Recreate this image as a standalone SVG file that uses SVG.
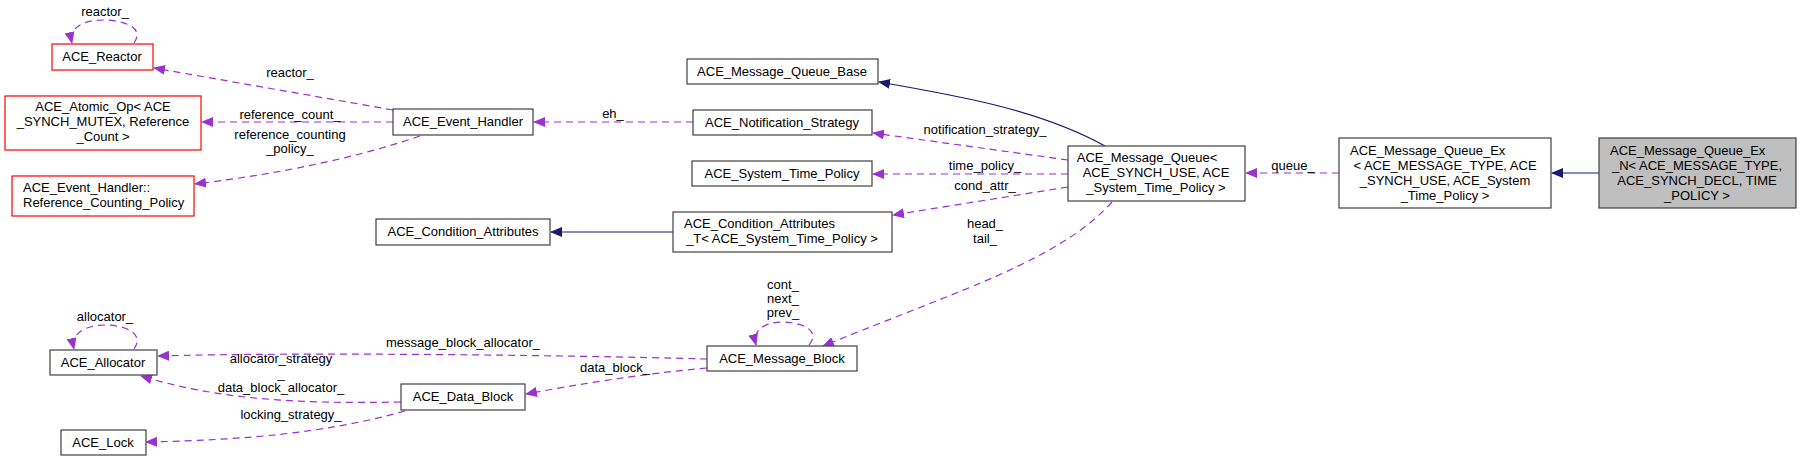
<svg xmlns="http://www.w3.org/2000/svg" width="1801" height="461" viewBox="0 0 1801 461">
<style>
text{font-family:"Liberation Sans",Arial,sans-serif;font-size:13px;fill:#000;text-anchor:middle}
.n{fill:#fff;stroke:#404040;stroke-width:1.2}
.r{fill:#fff;stroke:#ff0000;stroke-width:1.2}
.g{fill:#bfbfbf;stroke:#404040;stroke-width:1.2}
.u{fill:none;stroke:#9a32cd;stroke-width:1.2;stroke-dasharray:7,5;marker-end:url(#pa)}
.i{fill:none;stroke:#191970;stroke-width:1.2;marker-end:url(#ia)}
</style>
<defs>
<marker id="pa" markerWidth="12" markerHeight="10" refX="11" refY="5" orient="auto" markerUnits="userSpaceOnUse"><path d="M0,0 L12,5 L0,10 z" fill="#9a32cd"/></marker>
<marker id="ia" markerWidth="12" markerHeight="10" refX="11" refY="5" orient="auto" markerUnits="userSpaceOnUse"><path d="M0,0 L12,5 L0,10 z" fill="#191970"/></marker>
</defs>
<rect width="1801" height="461" fill="#fff"/>
<g id="connectors">
<path class="u" d="M134,43 C146,26 120,20 103,20 C86,20 68,26 72,43"/>
<text x="105" y="16">reactor_</text>
<path class="u" d="M393,110 L154,68"/>
<text x="290" y="77">reactor_</text>
<path class="u" d="M393,122 L202,122"/>
<text x="290" y="119">reference_count_</text>
<path class="u" d="M420,136 C350,160 270,175 195,184"/>
<text x="290" y="139">reference_counting</text>
<text x="290" y="153">_policy_</text>
<path class="u" d="M693,122 L534,122"/>
<text x="613" y="118">eh_</text>
<path class="i" d="M1105,146 C1040,110 960,96 879,82"/>
<path class="u" d="M1068,160 L873,133"/>
<text x="985" y="134">notification_strategy_</text>
<path class="u" d="M1068,174 L873,174"/>
<text x="985" y="170">time_policy_</text>
<path class="u" d="M1068,187 L893,215"/>
<text x="985" y="190">cond_attr_</text>
<path class="u" d="M1112,202 C1060,260 960,290 823,346"/>
<text x="985" y="228">head_</text>
<text x="985" y="243">tail_</text>
<path class="i" d="M673,232 L551,232"/>
<path class="u" d="M1339,173 L1246,173"/>
<text x="1293" y="170">queue_</text>
<path class="i" d="M1599,173 L1552,173"/>
<path class="u" d="M809,345 C822,330 800,322 783,322 C765,322 752,330 756,345"/>
<text x="783" y="289">cont_</text>
<text x="783" y="303">next_</text>
<text x="783" y="317">prev_</text>
<path class="u" d="M707,359 C560,355 300,352 158,356"/>
<text x="463" y="347">message_block_allocator_</text>
<path class="u" d="M707,368 C640,374 580,384 526,394"/>
<text x="615" y="372">data_block_</text>
<path class="u" d="M401,402 C300,404 220,400 141,376"/>
<text x="281" y="363">allocator_strategy</text>
<text x="281" y="378">_</text>
<text x="281" y="392">data_block_allocator_</text>
<path class="u" d="M405,411 C330,432 250,440 146,442"/>
<text x="291" y="419">locking_strategy_</text>
<path class="u" d="M134,349 C146,332 122,325 105,325 C88,325 70,332 74,349"/>
<text x="105" y="321">allocator_</text>
</g>
<g id="ACE_Reactor"><rect class="r" x="52" y="44" width="101" height="26"/><text x="102" y="61">ACE_Reactor</text></g>
<g id="ACE_Atomic_Op"><rect class="r" x="5" y="96" width="196" height="54"/><text x="103" y="111">ACE_Atomic_Op&lt; ACE</text><text x="103" y="126">_SYNCH_MUTEX, Reference</text><text x="103" y="141">_Count &gt;</text></g>
<g id="ACE_Event_Handler_Reference_Counting_Policy"><rect class="r" x="12" y="176" width="182" height="40"/><text x="23" y="192" style="text-anchor:start">ACE_Event_Handler::</text><text x="23" y="207" style="text-anchor:start">Reference_Counting_Policy</text></g>
<g id="ACE_Event_Handler"><rect class="n" x="393" y="109" width="140" height="26"/><text x="463" y="126">ACE_Event_Handler</text></g>
<g id="ACE_Condition_Attributes"><rect class="n" x="376" y="219" width="174" height="26"/><text x="463" y="236">ACE_Condition_Attributes</text></g>
<g id="ACE_Message_Queue_Base"><rect class="n" x="687" y="59" width="191" height="25"/><text x="782" y="76">ACE_Message_Queue_Base</text></g>
<g id="ACE_Notification_Strategy"><rect class="n" x="693" y="110" width="179" height="25"/><text x="782" y="127">ACE_Notification_Strategy</text></g>
<g id="ACE_System_Time_Policy"><rect class="n" x="692" y="161" width="180" height="25"/><text x="782" y="178">ACE_System_Time_Policy</text></g>
<g id="ACE_Condition_Attributes_T"><rect class="n" x="673" y="212" width="219" height="40"/><text x="684" y="228" style="text-anchor:start">ACE_Condition_Attributes</text><text x="782" y="243">_T&lt; ACE_System_Time_Policy &gt;</text></g>
<g id="ACE_Message_Queue"><rect class="n" x="1068" y="146" width="177" height="55"/><text x="1147" y="162">ACE_Message_Queue&lt;</text><text x="1156" y="177">ACE_SYNCH_USE, ACE</text><text x="1156" y="192">_System_Time_Policy &gt;</text></g>
<g id="ACE_Message_Queue_Ex"><rect class="n" x="1339" y="138" width="212" height="70"/><text x="1350" y="155" style="text-anchor:start">ACE_Message_Queue_Ex</text><text x="1445" y="170">&lt; ACE_MESSAGE_TYPE, ACE</text><text x="1445" y="185">_SYNCH_USE, ACE_System</text><text x="1445" y="200">_Time_Policy &gt;</text></g>
<g id="ACE_Message_Queue_Ex_N"><rect class="g" x="1599" y="138" width="197" height="70"/><text x="1610" y="155" style="text-anchor:start">ACE_Message_Queue_Ex</text><text x="1697" y="170">_N&lt; ACE_MESSAGE_TYPE,</text><text x="1697" y="185">ACE_SYNCH_DECL, TIME</text><text x="1697" y="200">_POLICY &gt;</text></g>
<g id="ACE_Message_Block"><rect class="n" x="707" y="346" width="150" height="25"/><text x="782" y="363">ACE_Message_Block</text></g>
<g id="ACE_Allocator"><rect class="n" x="50" y="350" width="107" height="25"/><text x="103" y="367">ACE_Allocator</text></g>
<g id="ACE_Data_Block"><rect class="n" x="401" y="384" width="124" height="26"/><text x="463" y="401">ACE_Data_Block</text></g>
<g id="ACE_Lock"><rect class="n" x="61" y="430" width="85" height="25"/><text x="103" y="447">ACE_Lock</text></g>
</svg>
